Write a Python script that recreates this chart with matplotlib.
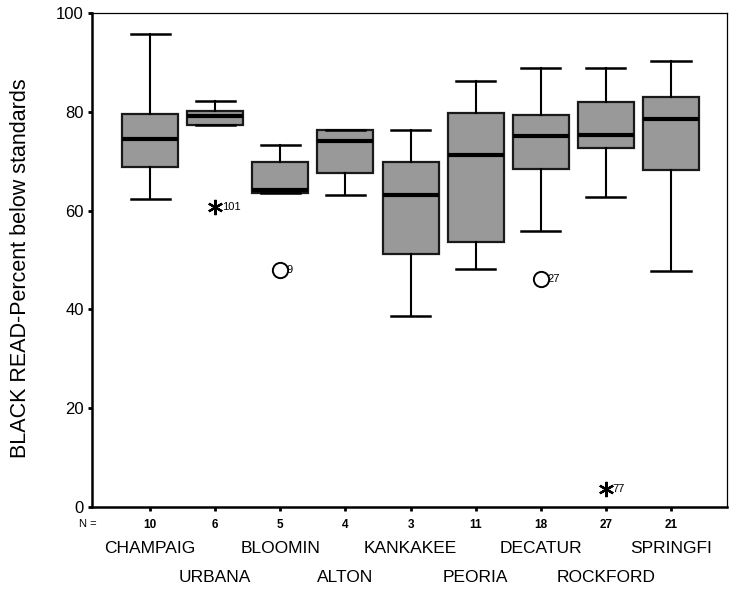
import matplotlib
matplotlib.use("Agg")
import matplotlib.pyplot as plt

plt.rcParams['font.family'] = ['Liberation Sans', 'DejaVu Sans']

# data
cities = ["CHAMPAIG", "URBANA", "BLOOMIN", "ALTON", "KANKAKEE",
          "PEORIA", "DECATUR", "ROCKFORD", "SPRINGFI"]
n_counts = [10, 6, 5, 4, 3, 11, 18, 27, 21]
whis_lo = [62.3, 77.4, 63.6, 63.2, 38.7, 48.1, 55.8, 62.7, 47.8]
q1 = [68.9, 77.4, 63.6, 67.6, 51.2, 53.7, 68.4, 72.6, 68.3]
medians = [74.4, 79.1, 64.2, 74.0, 63.2, 71.3, 75.2, 75.4, 78.5]
q3 = [79.5, 80.1, 69.9, 76.3, 69.9, 79.8, 79.3, 82.0, 83.0]
whis_hi = [95.7, 82.2, 73.2, 76.4, 76.3, 86.2, 88.9, 88.9, 90.2]

# outliers: (box index, value, case label, kind)
out_pos = [2, 3, 7, 8]
out_val = [60.8, 48.0, 46.1, 3.7]
out_lab = ["101", "9", "27", "77"]
out_kind = ["extreme", "outlier", "outlier", "extreme"]

fig = plt.figure(figsize=(7.31, 5.92), dpi=100)
ax = fig.add_axes([0.126, 0.1436, 0.8685, 0.8344])

stats = []
for i in range(len(cities)):
    stats.append(dict(med=medians[i], q1=q1[i], q3=q3[i],
                      whislo=whis_lo[i], whishi=whis_hi[i], fliers=[]))
pos = list(range(1, len(cities) + 1))
ax.bxp(stats, positions=pos, widths=0.86, capwidths=0.6, patch_artist=True,
       showfliers=False,
       boxprops=dict(facecolor='#999999', edgecolor='#1a1a1a', linewidth=1.6),
       medianprops=dict(color='black', linewidth=3),
       whiskerprops=dict(color='black', linewidth=1.5),
       capprops=dict(color='black', linewidth=1.8))

for p, v, lab, kind in zip(out_pos, out_val, out_lab, out_kind):
    if kind == "extreme":
        ax.plot(p, v, marker=(6, 2, 0), markersize=11, color='black', mew=1.6)
    else:
        ax.plot(p, v, marker='o', markersize=11, mfc='white', mec='black', mew=1.4)
    ax.text(p + 0.1, v, lab, fontsize=8, va='center', ha='left')

ax.set_xlim(0.11, 9.86)
ax.set_ylim(0, 100)
ax.set_yticks([0, 20, 40, 60, 80, 100])
ax.tick_params(axis='y', length=3, width=2, labelsize=12, pad=3)
ax.tick_params(axis='x', length=3, width=2, labelbottom=False)
ax.set_xticks(pos)
for s in ['left', 'bottom']:
    ax.spines[s].set_linewidth(1.8)
for s in ['top', 'right']:
    ax.spines[s].set_linewidth(0.9)

ax.set_ylabel("BLACK READ-Percent below standards", fontsize=15.5)
ax.yaxis.set_label_coords(-0.097, 0.484)

# N = row and staggered category labels
trans = ax.get_xaxis_transform()
ax.text(0.04, -0.025, "N =", transform=trans, fontsize=8,
        ha='center', va='top')
for p, n in zip(pos, n_counts):
    ax.text(p, -0.025, str(n), transform=trans, fontsize=8.5,
            fontweight='bold', ha='center', va='top')
for p, name in zip(pos, cities):
    yy = -0.069 if p % 2 == 1 else -0.128
    ax.text(p, yy, name, transform=trans, fontsize=12.5, ha='center', va='top')

fig.savefig("out.png", dpi=100)
